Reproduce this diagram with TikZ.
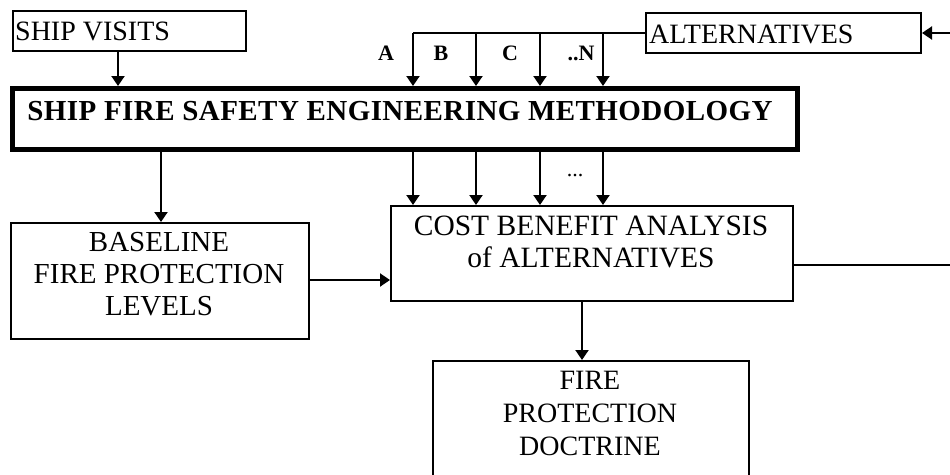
\documentclass[tikz,border=0pt]{standalone}
\usepackage{fontspec}
\setmainfont{Liberation Serif}
\usetikzlibrary{arrows.meta}
\begin{document}
\begin{tikzpicture}[x=1pt,y=-1pt,
  box/.style={draw,line width=2pt,inner sep=0pt,anchor=north west},
  thickbox/.style={draw,line width=4.5pt,inner sep=0pt,anchor=north west},
  txt/.style={inner sep=0pt,font=\fontsize{28}{33}\selectfont,align=center},
  lbl/.style={inner sep=0pt,font=\fontsize{22}{26}\selectfont\bfseries},
  conn/.style={line width=2pt},
  arr/.style={line width=2pt,-{Triangle[width=13pt,length=10pt]}}]
\useasboundingbox (0,0) rectangle (950,474);
\clip (0,0) rectangle (950,474);
% boxes
\node[box,minimum width=233pt,minimum height=40pt] (sv) at (12,10) {};
\node[box,minimum width=275pt,minimum height=40pt] (alt) at (645,12) {};
\node[thickbox,minimum width=785pt,minimum height=61pt] (sfe) at (10,86) {};
\node[box,minimum width=298pt,minimum height=116pt] (base) at (10,222) {};
\node[box,minimum width=402pt,minimum height=95pt] (cba) at (390,205) {};
\node[box,minimum width=316pt,minimum height=150pt] (fpd) at (432,360) {};
% texts
\node[txt,anchor=base west] (tsv) at (15,40) {SHIP VISITS};
\node[txt,anchor=base west] (talt) at (649,43) {ALTERNATIVES};
\node[inner sep=0pt,anchor=base,font=\fontsize{29}{33}\selectfont\bfseries\addfontfeature{LetterSpace=1.5}] (tsfe) at (400,120) {SHIP FIRE SAFETY ENGINEERING METHODOLOGY};
\node[txt,font=\fontsize{29}{32}\selectfont] (tbase) at (159,274) {BASELINE\\FIRE PROTECTION\\LEVELS};
\node[txt,font=\fontsize{29.5}{32}\selectfont] (tcba) at (591,242) {COST BENEFIT ANALYSIS\\of ALTERNATIVES};
\node[txt] (tfpd) at (590,413) {FIRE\\PROTECTION\\DOCTRINE};
% labels
\node[lbl,anchor=base] (la) at (386,60) {A};
\node[lbl,anchor=base] (lb) at (441,60) {B};
\node[lbl,anchor=base] (lc) at (510,60) {C};
\node[lbl,anchor=base] (ln) at (581,60) {..N};
\node[inner sep=0pt,font=\fontsize{22}{26}\selectfont] (ldots) at (575,176) {...};
% helper coordinates
\coordinate (xs) at (118,0);
\coordinate (xbl) at (161,0);
\coordinate (xa) at (413,0);
\coordinate (xb) at (476,0);
\coordinate (xc) at (540,0);
\coordinate (xd) at (603,0);
\coordinate (xf) at (582,0);
\coordinate (yb) at (0,280);
\coordinate (yr) at (0,265);
\coordinate (rin) at (955,33);
\coordinate (rout) at (955,265);
% connectors
\draw[arr] (sv.south -| xs) -- (sfe.north -| xs);
\draw[conn] (alt.west) -- (alt.west -| xa);
\foreach \c in {xa,xb,xc,xd}{
  \draw[arr] (alt.west -| \c) -- (sfe.north -| \c);
  \draw[arr] (sfe.south -| \c) -- (cba.north -| \c);
}
\draw[arr] (rin) -- (alt.east |- rin);
\draw[arr] (sfe.south -| xbl) -- (base.north -| xbl);
\draw[arr] (base.east |- yb) -- (cba.west |- yb);
\draw[conn] (cba.east |- yr) -- (rout);
\draw[arr] (cba.south -| xf) -- (fpd.north -| xf);
\end{tikzpicture}
\end{document}
